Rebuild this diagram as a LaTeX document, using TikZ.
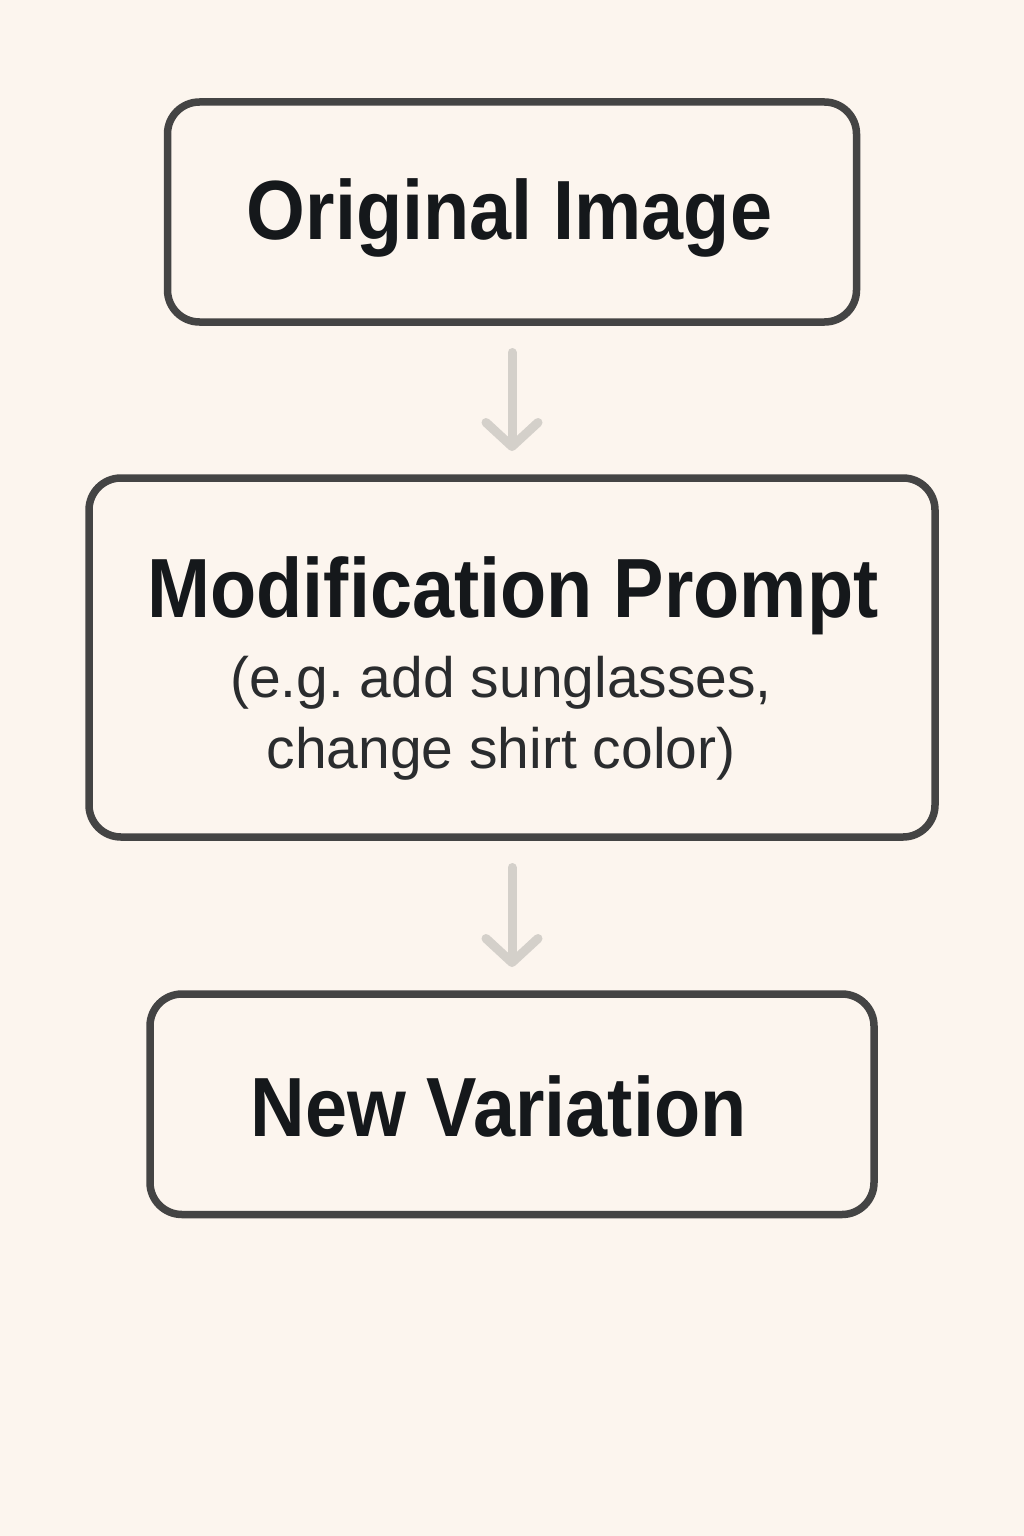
\documentclass[tikz,border=0pt]{standalone}
\usepackage{fontspec}
\setmainfont{Liberation Sans}
\newfontfamily\titlefont[FakeStretch=0.9]{Liberation Sans}
\usetikzlibrary{arrows.meta}
\frenchspacing
\definecolor{bg}{HTML}{FCF5EE}
\definecolor{boxline}{HTML}{444444}
\definecolor{arrowc}{HTML}{D4D0CA}
\definecolor{ink}{HTML}{15181B}
\definecolor{subink}{HTML}{2A2C2E}
\tikzset{
  stagebox/.style={draw=boxline, line width=7.5pt, rounded corners=32pt, inner sep=0pt, outer sep=0pt},
  titletext/.style={anchor=base, inner sep=0pt, text=ink, font=\titlefont\bfseries\fontsize{84}{100}\selectfont},
  subtext/.style={anchor=base, inner sep=0pt, text=subink, font=\fontsize{57}{71}\selectfont},
  flowarrow/.style={draw=arrowc, line width=9pt, line cap=round, -{Straight Barb[length=24pt, width=52pt, round]}, shorten <=30.5pt, shorten >=27pt}
}
\begin{document}
\begin{tikzpicture}[x=1pt,y=-1pt]
\useasboundingbox (0,0) rectangle (1024,1536);
\fill[bg] (0,0) rectangle (1024,1536);
\node[stagebox, minimum width=689pt, minimum height=220pt] (b1) at (512,212) {};
\node[stagebox, minimum width=846pt, minimum height=359pt] (b2) at (512,657.5) {};
\node[stagebox, minimum width=724pt, minimum height=220.5pt] (b3) at (512,1104.25) {};
\node[titletext] (t1) at (509.5,239) {Original Image};
\node[titletext] (t2) at (513,617) {Modification Prompt};
\node[subtext] (s1) at (501,697) {(e.g. add sunglasses,};
\node[subtext] (s2) at (501,768) {change shirt color)};
\node[titletext] (t3) at (498.5,1136) {New Variation};
\draw[flowarrow] (b1) -- (b2);
\draw[flowarrow] (b2) -- (b3);
\end{tikzpicture}
\end{document}
